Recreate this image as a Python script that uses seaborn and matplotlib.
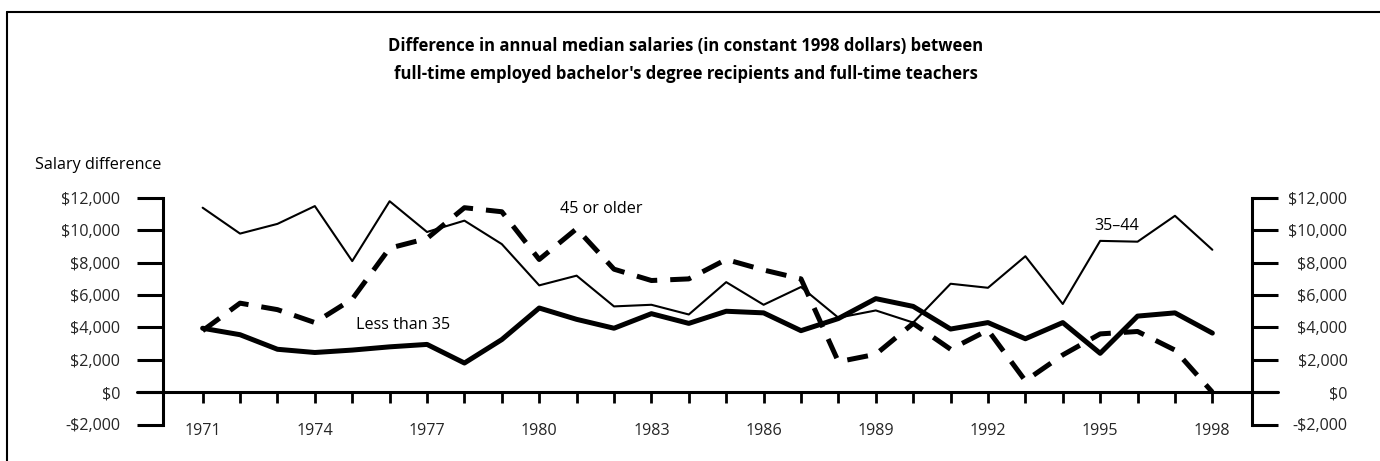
import pandas as pd
import matplotlib.pyplot as plt
import matplotlib.font_manager as fm
import matplotlib.transforms as mtransforms
from matplotlib.lines import Line2D
import seaborn as sns


# Data

years = list(range(1971, 1999))

age_35_44 = [11400, 9800, 10400, 11500, 8100, 11800, 9900, 10600, 9150, 6600,
             7200, 5300, 5400, 4800, 6800, 5400, 6500, 4600, 5050, 4300,
             6700, 6450, 8400, 5450, 9350, 9300, 10900, 8800]

under_35 = [3950, 3550, 2650, 2450, 2600, 2800, 2950, 1800, 3250, 5200,
            4500, 3950, 4850, 4250, 5000, 4900, 3800, 4550, 5780, 5300,
            3900, 4300, 3300, 4300, 2400, 4700, 4900, 3650]

over_45 = [3800, 5500, 5100, 4300, 5750, 8900, 9500, 11400, 11150, 8200,
           10100, 7600, 6900, 7000, 8200, 7550, 7000, 1880, 2340, 4250,
           2650, 3830, 700, 2300, 3600, 3750, 2600, 0]

y_ticks = [-2000, 0, 2000, 4000, 6000, 8000, 10000, 12000]
y_tick_labels = ["-$2,000", "$0", "$2,000", "$4,000", "$6,000", "$8,000", "$10,000", "$12,000"]

title_lines = "Difference in annual median salaries (in constant 1998 dollars) between\n" \
              "full-time employed bachelor's degree recipients and full-time teachers"


df = pd.DataFrame({
    "Year": years,
    "35-44": age_35_44,
    "Less than 35": under_35,
    "45 or older": over_45,
})


# --------------------------
# Style
# --------------------------

sns.set_style("white")

installed = {f.name for f in fm.fontManager.ttflist}
fam = [f for f in ["Liberation Sans Narrow", "Open Sans", "DejaVu Sans"] if f in installed]
plt.rcParams["font.family"] = fam
plt.rcParams["text.color"] = "black"

FS = 11.6

W, H = 1380, 461
fig = plt.figure(figsize=(13.8, 4.61), dpi=100)
fig.patch.set_facecolor("white")

ax_left, ax_right = 163, 1252
ax_top, ax_bottom = 198, 424.5
ax = fig.add_axes([ax_left / W, 1 - ax_bottom / H,
                   (ax_right - ax_left) / W, (ax_bottom - ax_top) / H])


# --------------------------
# Lines
# --------------------------

sns.lineplot(x="Year", y="35-44", data=df, ax=ax, color="black", linewidth=1.5)

sns.lineplot(x="Year", y="Less than 35", data=df, ax=ax, color="black", linewidth=3.6)

sns.lineplot(x="Year", y="45 or older", data=df, ax=ax, color="black",
             linewidth=3.6, linestyle=(0, (4.2, 2.6)))


# --------------------------
# Axes
# --------------------------

ax.set_xlim(1969.94, 1999.06)
ax.set_ylim(-2000, 12000)
ax.set_xlabel("")
ax.set_ylabel("")
ax.set_facecolor("white")

# zero line runs past both vertical axes
ext = 26 / (ax_right - ax_left)
ax.axhline(0, xmin=-ext, xmax=1 + ext, color="black", linewidth=2.2, clip_on=False)

ax.spines["top"].set_visible(False)
ax.spines["bottom"].set_position(("data", 0))
ax.spines["bottom"].set_visible(False)
for s in ["left", "right"]:
    ax.spines[s].set_visible(True)
    ax.spines[s].set_color("black")
    ax.spines[s].set_linewidth(2.2)

ax.set_xticks(years)
ax.set_xticklabels([str(y) if (y - 1971) % 3 == 0 else "" for y in years])
ax.tick_params(axis="x", direction="out", length=8, width=2, color="black",
               pad=14, labelsize=FS, bottom=True)

ax.set_yticks(y_ticks)
ax.set_yticklabels(y_tick_labels)
ax.tick_params(axis="y", direction="out", length=18.7, width=2.2, color="black",
               labelsize=FS, left=True, right=True, labelleft=True, labelright=True, pad=12)

# right labels are right-aligned, so push them further out
offset = mtransforms.ScaledTranslation(38 / 72, 0, fig.dpi_scale_trans)
for t in ax.yaxis.get_major_ticks():
    t.label2.set_horizontalalignment("right")
    t.label2.set_transform(t.label2.get_transform() + offset)

ax.grid(False)


# --------------------------
# Text
# --------------------------

fig.text(686 / W, 1 - 60 / H, title_lines, ha="center", va="center",
         fontsize=12, fontweight="bold", linespacing=1.7)

fig.text(35 / W, 1 - 165 / H, "Salary difference", ha="left", va="center", fontsize=FS)

ax.text(1981.65, 11300, "45 or older", ha="center", va="center", fontsize=FS)
ax.text(1976.35, 4150, "Less than 35", ha="center", va="center", fontsize=FS)
ax.text(1995.45, 10300, "35\u201344", ha="center", va="center", fontsize=FS)


# --------------------------
# Frame (scanned page border)
# --------------------------

fig.add_artist(Line2D([7 / W, 7 / W], [1 - 12 / H, 0], color="black", linewidth=1.5))
fig.add_artist(Line2D([7 / W, 1], [1 - 12 / H, 1 - 12 / H], color="black", linewidth=1.5))


plt.savefig("out.png", dpi=100, facecolor="white")
